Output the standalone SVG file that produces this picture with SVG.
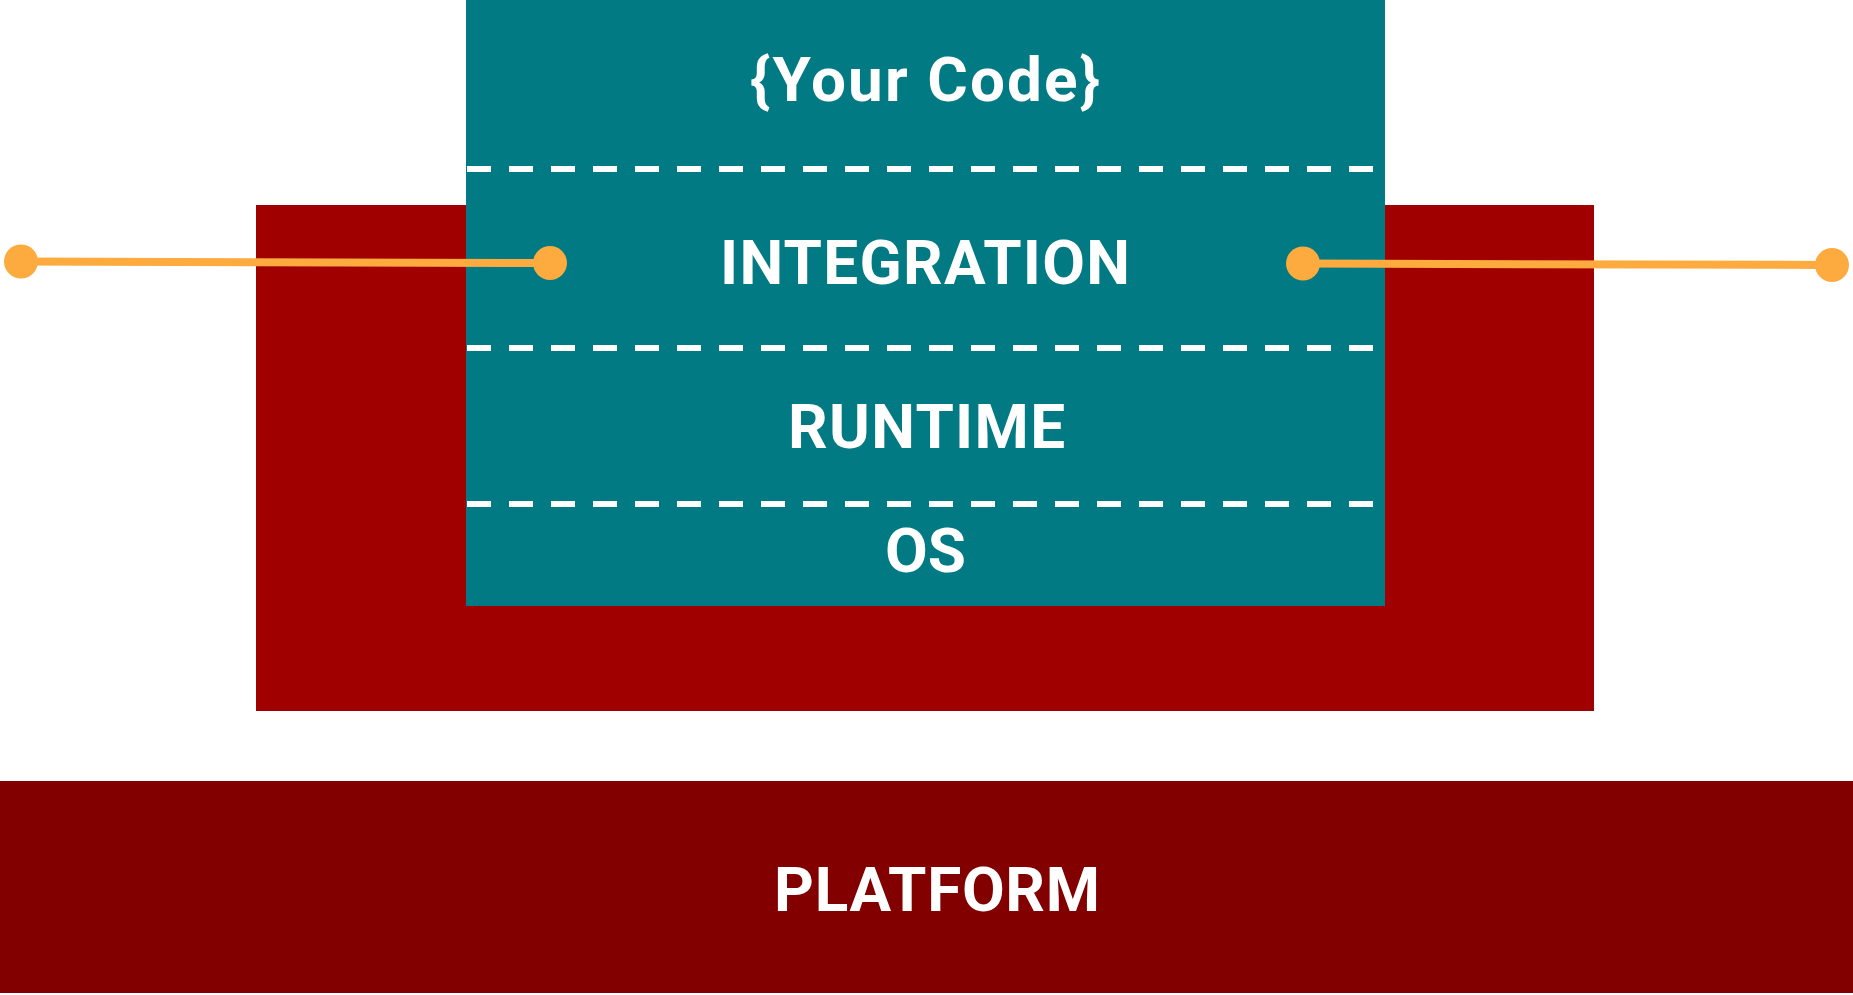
<svg xmlns="http://www.w3.org/2000/svg" width="1853" height="995" viewBox="0 0 1853 995">
  <style>
    .lbl { font-family: Roboto, "Liberation Sans", "DejaVu Sans", sans-serif; font-weight: 700; font-size: 62px; fill: #ffffff; text-anchor: middle; }
    .sep { stroke: #ffffff; stroke-width: 6; stroke-dasharray: 24 18; fill: none; }
    .conn { stroke: #fdaa3f; stroke-width: 8; fill: none; }
    .dot { fill: #fdaa3f; }
  </style>
  <rect x="0" y="0" width="1853" height="995" fill="#ffffff"/>
  <g id="platform">
    <rect x="0" y="781" width="1853" height="212" fill="#820000"/>
    <text class="lbl" x="937" y="911" textLength="326" lengthAdjust="spacing">PLATFORM</text>
  </g>
  <g id="container">
    <rect x="256" y="205" width="1338" height="506" fill="#a10000"/>
  </g>
  <g id="stack">
    <rect x="466" y="0" width="919" height="606" fill="#017a84"/>
    <line class="sep" x1="467" y1="169" x2="1373" y2="169"/>
    <line class="sep" x1="467" y1="348" x2="1373" y2="348"/>
    <line class="sep" x1="467" y1="504" x2="1373" y2="504"/>
  </g>
  <g id="your-code">
    <text class="lbl" x="925" y="101" textLength="350" lengthAdjust="spacing">{Your Code}</text>
  </g>
  <g id="integration">
    <text class="lbl" x="925" y="284" textLength="410" lengthAdjust="spacing">INTEGRATION</text>
  </g>
  <g id="runtime">
    <text class="lbl" x="926.5" y="448" textLength="277" lengthAdjust="spacing">RUNTIME</text>
  </g>
  <g id="os">
    <text class="lbl" x="925.5" y="572" textLength="81" lengthAdjust="spacing">OS</text>
  </g>
  <g id="connectors">
    <line class="conn" x1="21" y1="261.5" x2="550" y2="263"/>
    <circle class="dot" cx="21" cy="261.5" r="17"/>
    <circle class="dot" cx="550" cy="263" r="17"/>
    <line class="conn" x1="1303" y1="263.5" x2="1832" y2="265"/>
    <circle class="dot" cx="1303" cy="263.5" r="17"/>
    <circle class="dot" cx="1832" cy="265" r="17"/>
  </g>
</svg>
